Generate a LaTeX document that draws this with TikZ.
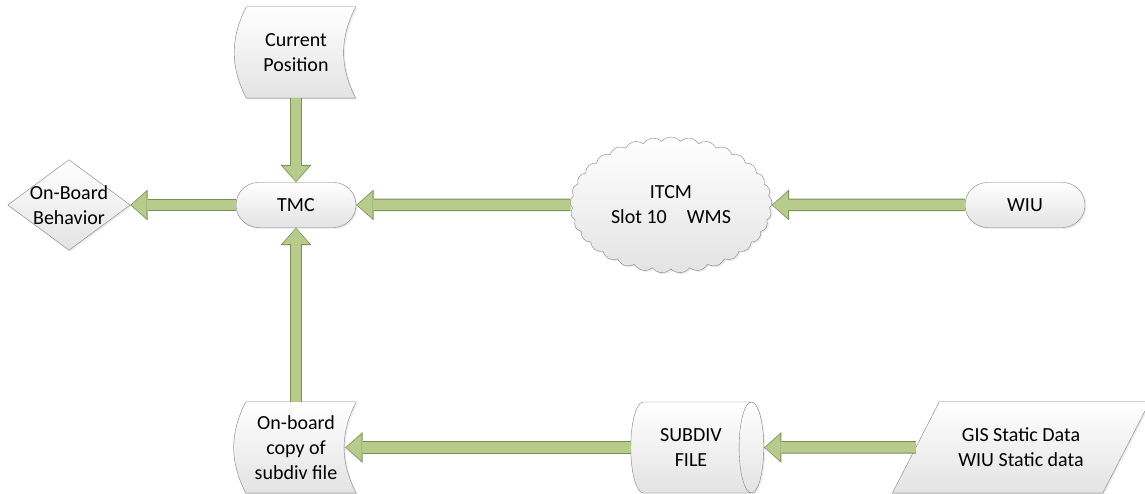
\documentclass[tikz,border=0pt]{standalone}
\usepackage{fontspec}
\setmainfont{Carlito}
\usetikzlibrary{shapes.geometric, shapes.symbols, arrows.meta, backgrounds, shadows, positioning}

\definecolor{flowfill}{RGB}{183,203,140}
\definecolor{flowline}{RGB}{122,142,82}
\definecolor{boxline}{RGB}{128,128,128}

\tikzset{
  box/.style={draw=boxline, top color=white, bottom color=black!11,
    drop shadow={opacity=0.15, shadow xshift=1.5pt, shadow yshift=-1.5pt}},
  txt/.style={align=center, font=\fontsize{20}{25}\selectfont, inner sep=0pt},
  term/.style={box, txt, rounded corners=22.5pt, minimum width=120pt, minimum height=45pt},
  flow/.style={flowfill, line width=10.5pt, shorten >=1pt,
    -{Triangle[length=15.5pt, width=27pt, line width=0pt]},
    preaction={draw=flowline, line width=12.5pt, shorten >=0pt,
      -{Triangle[length=17.5pt, width=31pt, line width=0pt]}}},
}

\begin{document}
\begin{tikzpicture}[x=1pt, y=1pt]
    \useasboundingbox (0,0) rectangle (1145,494);

    \node[term] (tmc) at (296,289) {TMC};
    \node[term] (wiu) at (1025,289) {WIU};
    \node[txt, minimum width=122pt, minimum height=90pt] (beh) at (69,289) {On-Board\\Behavior};
    \node[txt, box, cloud, cloud puffs=33, cloud puff arc=100, aspect=1.48,
          minimum width=202pt, minimum height=136pt] (itcm) at (671,289) {ITCM\\Slot 10\quad WMS};
    \node[txt, minimum width=109pt, minimum height=91pt] (cur) at (296,441.5) {Current\\Position};
    \node[txt, minimum width=110pt, minimum height=91pt] (onb) at (296,46.5) {On-board\\copy of\\subdiv file};
    \node[txt, box, cylinder, shape aspect=0.65, minimum height=133pt, minimum width=91pt] (sub) at (691,46.5) {SUBDIV\\FILE};
    \node[txt, minimum width=210pt, minimum height=91pt] (gis) at (1021,46.5) {GIS Static Data\\WIU Static data};

    % outlines of the hand-made shapes
    \begin{scope}[on background layer]
        \path[box] (beh.west) -- (beh.north) -- (beh.east) -- (beh.south) -- cycle;
        \foreach \n in {cur, onb}
            \path[box] ([xshift=5pt]\n.north west) -- ([xshift=5pt]\n.north east)
                to[bend right=27] ([xshift=5pt]\n.south east)
                -- ([xshift=5pt]\n.south west)
                to[bend left=27] ([xshift=5pt]\n.north west) -- cycle;
        \path[box] ([xshift=23.5pt]gis.north west) -- ([xshift=23.5pt]gis.north east)
            -- ([xshift=-23.5pt]gis.south east) -- ([xshift=-23.5pt]gis.south west) -- cycle;
    \end{scope}

    \draw[flow] (cur) -- (tmc);
    \draw[flow] (tmc) -- (beh);
    \draw[flow] (itcm) -- (tmc);
    \draw[flow] (wiu) -- (itcm);
    \draw[flow] (onb) -- (tmc);
    \draw[flow] (sub) -- ([xshift=-6pt]onb.east);
    \draw[flow] (gis) -- (sub);
\end{tikzpicture}
\end{document}
